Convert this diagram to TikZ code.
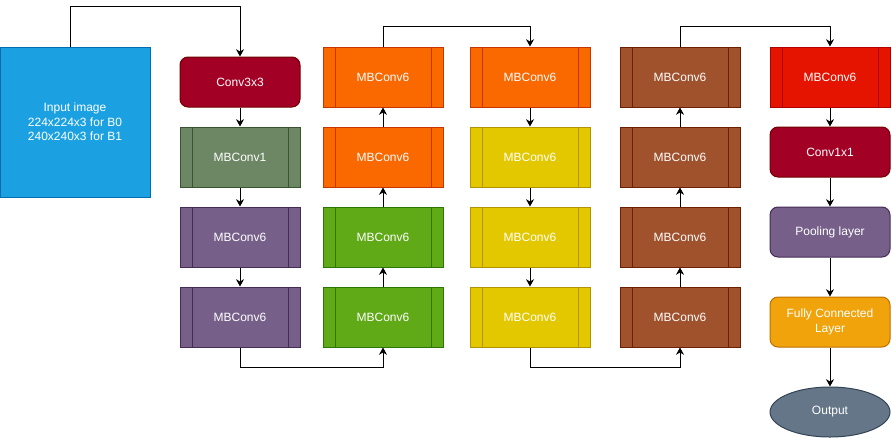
\documentclass[tikz,border=0pt]{standalone}
\usepackage{fontspec}
\setmainfont{Liberation Sans}
\usepackage{xcolor}
\usetikzlibrary{arrows.meta,shapes.geometric}

\definecolor{blueF}{HTML}{1BA1E2}\definecolor{blueD}{HTML}{006EAF}
\definecolor{crimF}{HTML}{A20025}\definecolor{crimD}{HTML}{6F0000}
\definecolor{oliveF}{HTML}{6D8764}\definecolor{oliveD}{HTML}{3A5431}
\definecolor{violF}{HTML}{76608A}\definecolor{violD}{HTML}{432D57}
\definecolor{orngF}{HTML}{FA6800}\definecolor{orngD}{HTML}{C73500}
\definecolor{grnF}{HTML}{60A917}\definecolor{grnD}{HTML}{2D7600}
\definecolor{yelF}{HTML}{E3C800}\definecolor{yelD}{HTML}{B09500}
\definecolor{brwnF}{HTML}{A0522D}\definecolor{brwnD}{HTML}{6D1F00}
\definecolor{redF}{HTML}{E51400}\definecolor{redD}{HTML}{B20000}
\definecolor{ambF}{HTML}{F0A30A}\definecolor{ambD}{HTML}{BD7000}
\definecolor{slateF}{HTML}{647687}\definecolor{slateD}{HTML}{314354}

\tikzset{
  every node/.style={text=white,font=\fontsize{9pt}{11pt}\selectfont,
                     line width=0.75pt},
  mb/.style={draw=#1D,fill=#1F,minimum width=90pt,minimum height=45pt,
    path picture={\draw[#1D,line width=0.75pt]
      ([xshift=9pt]path picture bounding box.north west)--
      ([xshift=9pt]path picture bounding box.south west)
      ([xshift=-9pt]path picture bounding box.north east)--
      ([xshift=-9pt]path picture bounding box.south east);}},
  layer/.style={draw=#1D,fill=#1F,minimum width=90pt,minimum height=37.5pt,
                rounded corners=6pt,align=center},
  arr/.style={draw,line width=0.75pt,-{Stealth[length=5.5pt,width=6pt]}}
}

\begin{document}
\begin{tikzpicture}[x=0.75pt,y=-0.75pt]
\useasboundingbox (0,0) rectangle (892,447);

\node[draw=blueD,fill=blueF,minimum width=112.5pt,minimum height=112.5pt,
      align=center] (inp) at (75,122)
      {Input image\\224x224x3 for B0\\240x240x3 for B1};

% stem and first columns
\node[layer=crim] (c33) at (240,82) {Conv3x3};
\node[mb=olive] (mb1) at (240,157) {MBConv1};
\node[mb=viol] (p1) at (240,237) {MBConv6};
\node[mb=viol] (p2) at (240,317) {MBConv6};

\node[mb=grn] (g1) at (383,317) {MBConv6};
\node[mb=grn] (g2) at (383,237) {MBConv6};
\node[mb=orng] (o1) at (383,157) {MBConv6};
\node[mb=orng] (o2) at (383,77) {MBConv6};

\node[mb=orng] (o3) at (530,77) {MBConv6};
\foreach \n/\y in {y1/157,y2/237,y3/317}
  \node[mb=yel] (\n) at (530,\y) {MBConv6};

\foreach \n/\y in {b1/317,b2/237,b3/157,b4/77}
  \node[mb=brwn] (\n) at (680,\y) {MBConv6};

% head
\node[mb=red] (r1) at (830,77) {MBConv6};
\node[layer=crim] (c11) at (830,152) {Conv1x1};
\node[layer=viol] (pool) at (830,232) {Pooling layer};
\node[layer=amb] (fc) at (830,322) {Fully Connected\\Layer};
\node[draw=slateD,fill=slateF,ellipse,minimum width=90pt,minimum height=37.5pt]
      (out) at (830,412) {Output};

\draw[arr] ([xshift=-3.75pt]inp.north) -- ++(0,-40) -| (c33.north);
\foreach \a/\b in {c33/mb1,mb1/p1,p1/p2,g1/g2,g2/o1,o1/o2,o3/y1,y1/y2,y2/y3,
                   b1/b2,b2/b3,b3/b4,r1/c11,c11/pool,pool/fc,fc/out}
  \draw[arr] (\a) -- (\b);
\draw[arr] (p2.south) -- ++(0,20) -| (g1.south);
\draw[arr] (o2.north) -- ++(0,-20) -| (o3.north);
\draw[arr] (y3.south) -- ++(0,20) -| (b1.south);
\draw[arr] (b4.north) -- ++(0,-20) -| (r1.north);
\end{tikzpicture}
\end{document}
